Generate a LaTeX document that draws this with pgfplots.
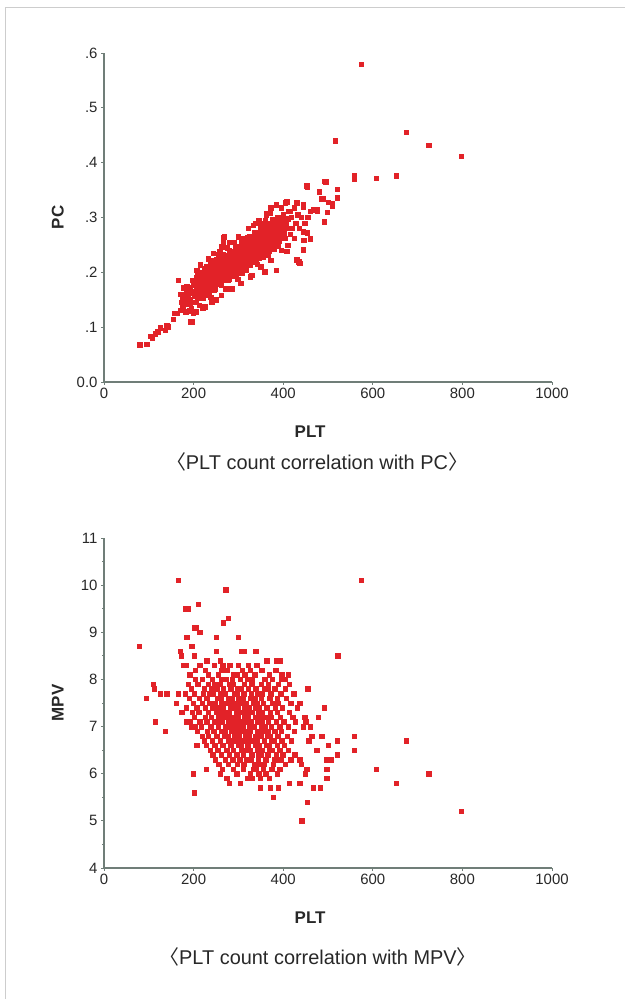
\documentclass[border=0pt]{standalone}
\usepackage{pgfplots}
\pgfplotsset{compat=1.18}
\usepackage{fontspec}
\setmainfont{Liberation Sans}
\newfontfamily\cjk{Noto Sans CJK KR}
\definecolor{ptred}{RGB}{226,34,40}
\definecolor{axgray}{RGB}{112,126,120}
\definecolor{lblgray}{RGB}{40,40,40}
\definecolor{framegray}{RGB}{205,205,205}

\pgfplotsset{
  scat/.style={
    scale only axis, width=448bp,
    xmin=0, xmax=1000,
    axis lines*=left,
    axis line style={draw=axgray, line width=1.3bp},
    tick align=outside, major tick length=3bp,
    tick style={draw=axgray, line width=0.8bp},
    xtick={0,200,400,600,800,1000},
    xticklabels={0,200,400,600,800,1000},
    ticklabel style={font=\fontsize{15}{15}\selectfont, text=lblgray},
    label style={font=\bfseries\fontsize{17}{17}\selectfont, text=lblgray},
    xlabel style={at={(axis description cs:0.46,-0.15)}, anchor=center},
    ylabel style={at={(axis description cs:-0.103,0.5)}, anchor=center},
    clip=false,
  },
  dots/.style={only marks, mark=square*, mark size=2.2bp,
    mark options={draw=ptred, fill=ptred}},
}

\begin{document}
\begin{tikzpicture}
\useasboundingbox (0,0) rectangle (625bp,999bp);
\draw[framegray, line width=1bp] (5bp,0) -- (5bp,991bp) -- (625bp,991bp);

% PLT vs PC
\begin{axis}[scat, height=329bp, at={(104bp,617bp)}, anchor=south west,
  ymin=0, ymax=0.6,
  ytick={0,0.1,0.2,0.3,0.4,0.5,0.6},
  yticklabels={0.0,.1,.2,.3,.4,.5,.6},
  xlabel={PLT}, ylabel={PC}]
\addplot[dots] coordinates {
(80,0.068)(95,0.069)(103,0.083)(108,0.080)(114,0.088)(120,0.092)(125,0.099)(136,0.095)
(140,0.104)(143,0.101)(155,0.115)(158,0.126)(163,0.126)(166,0.186)(170,0.131)(176,0.137)
(177,0.140)(172,0.145)(180,0.142)(182,0.128)(190,0.130)(192,0.110)(196,0.110)(199,0.126)
(195,0.135)(178,0.160)(175,0.150)(170,0.160)(185,0.175)(178,0.172)(207,0.204)(205,0.128)
(212,0.140)(225,0.137)
(185,0.148)(187,0.158)(184,0.169)
(192,0.151)(190,0.162)(193,0.172)(191,0.142)
(199,0.146)(201,0.156)(198,0.166)(200,0.176)(197,0.186)
(206,0.145)(208,0.154)(205,0.163)(207,0.172)(204,0.181)(206,0.190)(209,0.199)
(213,0.153)(211,0.162)(214,0.171)(212,0.180)(215,0.189)(213,0.198)
(220,0.154)(222,0.163)(219,0.172)(221,0.181)(218,0.190)(220,0.199)(223,0.208)
(227,0.162)(225,0.171)(228,0.180)(226,0.189)(229,0.198)(227,0.207)
(234,0.162)(236,0.171)(233,0.180)(235,0.189)(232,0.198)(234,0.207)(237,0.216)
(241,0.170)(239,0.179)(242,0.188)(240,0.197)(243,0.206)(241,0.215)
(248,0.170)(250,0.179)(247,0.188)(249,0.197)(246,0.206)(248,0.215)(251,0.224)
(255,0.178)(253,0.187)(256,0.196)(254,0.205)(257,0.214)(255,0.223)
(262,0.178)(264,0.187)(261,0.196)(263,0.205)(260,0.214)(262,0.223)(265,0.232)
(269,0.186)(267,0.195)(270,0.204)(268,0.213)(271,0.222)(269,0.231)
(276,0.186)(278,0.195)(275,0.204)(277,0.213)(274,0.222)(276,0.231)(279,0.240)
(283,0.194)(281,0.203)(284,0.212)(282,0.221)(285,0.230)(283,0.239)
(290,0.194)(292,0.203)(289,0.212)(291,0.221)(288,0.230)(290,0.239)(293,0.248)
(297,0.202)(295,0.211)(298,0.220)(296,0.229)(299,0.238)(297,0.247)
(304,0.202)(306,0.211)(303,0.220)(305,0.229)(302,0.238)(304,0.247)(307,0.256)
(311,0.210)(309,0.219)(312,0.228)(310,0.237)(313,0.246)(311,0.255)
(318,0.210)(320,0.219)(317,0.228)(319,0.237)(316,0.246)(318,0.255)(321,0.264)
(325,0.218)(323,0.227)(326,0.236)(324,0.245)(327,0.254)(325,0.263)
(332,0.218)(334,0.227)(331,0.236)(333,0.245)(330,0.254)(332,0.263)(335,0.272)
(339,0.227)(337,0.236)(340,0.245)(338,0.254)(341,0.263)(339,0.272)
(346,0.227)(348,0.236)(345,0.245)(347,0.254)(344,0.263)(346,0.272)(349,0.281)
(353,0.235)(351,0.244)(354,0.253)(352,0.262)(355,0.271)(353,0.280)
(360,0.235)(362,0.244)(359,0.253)(361,0.262)(358,0.271)(360,0.280)(363,0.289)
(367,0.243)(365,0.252)(368,0.261)(366,0.270)(369,0.279)(367,0.288)
(374,0.243)(376,0.252)(373,0.261)(375,0.270)(372,0.279)(374,0.288)(377,0.297)
(381,0.251)(379,0.260)(382,0.269)(380,0.278)(383,0.287)(381,0.296)
(388,0.259)(390,0.268)(387,0.277)(389,0.286)(386,0.295)
(395,0.263)(393,0.272)(396,0.281)(394,0.290)(397,0.299)
(402,0.271)(404,0.280)(401,0.289)(403,0.298)
(409,0.280)(407,0.289)(410,0.298)
(215,0.214)(232,0.225)(258,0.238)(280,0.255)(300,0.265)(322,0.280)(345,0.295)(362,0.305)
(372,0.318)(395,0.318)(400,0.305)(412,0.312)(425,0.318)(432,0.305)(440,0.300)(448,0.290)
(455,0.300)(420,0.280)(428,0.290)(436,0.280)(415,0.270)(425,0.262)(220,0.135)(240,0.145)
(262,0.158)(285,0.170)(305,0.180)(330,0.195)(350,0.210)(372,0.222)(395,0.240)(410,0.250)
(238,0.155)(272,0.170)(298,0.188)(318,0.205)(342,0.215)(365,0.232)(388,0.248)(250,0.150)
(350,0.290)(325,0.265)(310,0.262)(290,0.255)(275,0.245)(255,0.232)(240,0.222)(228,0.210)
(388,0.300)(376,0.290)(360,0.295)(418,0.300)(400,0.296)(405,0.262)(390,0.258)(380,0.243)
(368,0.238)(355,0.228)(340,0.222)(325,0.213)(310,0.205)(295,0.196)(280,0.188)(262,0.176)
(245,0.168)(230,0.158)
(268,0.265)(266,0.253)(244,0.235)(248,0.219)(263,0.247)(266,0.263)(304,0.241)(288,0.229)
(274,0.186)(307,0.199)(326,0.192)(359,0.201)(385,0.204)(348,0.277)(337,0.290)(363,0.308)
(385,0.323)(408,0.329)(430,0.327)(445,0.320)(460,0.311)(475,0.314)(415,0.311)(404,0.327)
(371,0.308)(333,0.286)(408,0.238)(430,0.223)(445,0.241)(453,0.272)(446,0.259)(435,0.220)
(433,0.219)(437,0.217)(460,0.261)(444,0.274)
(516,0.440)(574,0.580)(674,0.456)(725,0.432)(797,0.412)(558,0.376)(558,0.371)(607,0.372)
(652,0.376)(495,0.365)(493,0.366)(453,0.356)(452,0.358)(480,0.347)(520,0.352)(520,0.336)
(486,0.334)(489,0.334)(500,0.328)(509,0.321)(509,0.325)(445,0.323)(467,0.314)(498,0.310)
(476,0.312)(453,0.301)(491,0.292)
};
\end{axis}

% PLT vs MPV
\begin{axis}[scat, height=330bp, at={(104bp,131bp)}, anchor=south west,
  ymin=4, ymax=11,
  ytick={4,5,6,7,8,9,10,11},
  yticklabels={4,5,6,7,8,9,10,11},
  minor ytick={4.5,5.5,6.5,7.5,8.5,9.5,10.5},
  minor tick length=2bp,
  xlabel={PLT}, ylabel={MPV}]
\addplot[dots] coordinates {
(79,8.7)(94,7.6)(110,7.9)(112,7.8)(114,7.1)(125,7.7)(136,6.9)(140,7.7)(161,7.5)(166,7.7)
(166,10.1)(181,9.5)(188,9.5)(210,9.6)(277,9.3)(266,9.2)(272,9.9)(201,9.1)(205,9.1)(214,9.0)
(250,8.9)(300,8.9)(185,8.9)(170,8.6)(172,8.5)(196,8.7)(201,8.5)(250,8.6)(229,8.4)(259,8.4)
(307,8.6)(312,8.6)(339,8.6)(363,8.4)(385,8.4)(393,8.4)(411,8.1)(404,8.0)(182,8.3)(173,7.3)
(185,7.1)(196,7.0)(207,6.6)(228,6.1)(199,6.0)(201,5.6)(259,6.0)(280,5.8)(304,5.8)(330,5.9)
(348,5.7)(371,5.7)(378,5.5)(389,5.7)(414,5.8)(437,5.8)(467,5.7)(453,5.4)(441,5.0)(449,6.0)
(452,6.1)(437,6.3)(497,6.1)(497,5.9)(482,5.7)
(455,7.8)(492,7.4)(478,7.2)(437,7.5)(448,7.2)(450,7.1)(445,7.0)(460,7.0)(486,6.8)(464,6.8)
(457,6.7)(521,6.7)(558,6.8)(558,6.5)(500,6.6)(521,6.4)(475,6.5)(496,6.3)(507,6.3)(440,6.2)
(426,6.4)
(522,8.5)(574,10.1)(674,6.7)(607,6.1)(652,5.8)(725,6.0)(797,5.2)
(178,8.3)(214,8.3)(246,8.3)(265,8.3)(281,8.3)(299,8.3)(322,8.3)(341,8.3)
(203,8.2)(226,8.2)(262,8.2)(274,8.2)(309,8.2)(327,8.2)(352,8.2)(383,8.2)
(191,8.1)(232,8.1)(255,8.1)(288,8.1)(297,8.1)(314,8.1)(336,8.1)(369,8.1)(397,8.1)
(203,8.0)(219,8.0)(241,8.0)(263,8.0)(272,8.0)(286,8.0)(304,8.0)(321,8.0)(331,8.0)(359,8.0)(376,8.0)(396,8.0)
(188,7.9)(209,7.9)(233,7.9)(247,7.9)(259,7.9)(279,7.9)(288,7.9)(313,7.9)(330,7.9)(351,7.9)(367,7.9)(389,7.9)(413,7.9)
(195,7.8)(224,7.8)(239,7.8)(252,7.8)(266,7.8)(283,7.8)(297,7.8)(305,7.8)(322,7.8)(339,7.8)(357,7.8)(365,7.8)(381,7.8)(404,7.8)
(181,7.7)(201,7.7)(221,7.7)(236,7.7)(244,7.7)(259,7.7)(271,7.7)(290,7.7)(296,7.7)(312,7.7)(329,7.7)(342,7.7)(353,7.7)(372,7.7)(394,7.7)(423,7.7)
(190,7.6)(212,7.6)(229,7.6)(253,7.6)(262,7.6)(277,7.6)(285,7.6)(301,7.6)(310,7.6)(327,7.6)(336,7.6)(351,7.6)(370,7.6)(386,7.6)(407,7.6)
(199,7.5)(219,7.5)(236,7.5)(247,7.5)(261,7.5)(269,7.5)(281,7.5)(293,7.5)(304,7.5)(316,7.5)(333,7.5)(341,7.5)(356,7.5)(377,7.5)(389,7.5)(417,7.5)
(184,7.4)(207,7.4)(226,7.4)(243,7.4)(255,7.4)(266,7.4)(283,7.4)(291,7.4)(300,7.4)(314,7.4)(324,7.4)(339,7.4)(347,7.4)(363,7.4)(382,7.4)(398,7.4)(431,7.4)
(197,7.3)(211,7.3)(232,7.3)(251,7.3)(263,7.3)(274,7.3)(280,7.3)(295,7.3)(305,7.3)(317,7.3)(330,7.3)(345,7.3)(353,7.3)(371,7.3)(386,7.3)(414,7.3)
(202,7.2)(226,7.2)(239,7.2)(256,7.2)(268,7.2)(279,7.2)(289,7.2)(299,7.2)(313,7.2)(322,7.2)(338,7.2)(349,7.2)(361,7.2)(373,7.2)(393,7.2)(421,7.2)
(191,7.1)(214,7.1)(229,7.1)(246,7.1)(258,7.1)(264,7.1)(277,7.1)(286,7.1)(296,7.1)(307,7.1)(318,7.1)(329,7.1)(343,7.1)(352,7.1)(367,7.1)(384,7.1)(401,7.1)(427,7.1)
(203,7.0)(217,7.0)(238,7.0)(255,7.0)(271,7.0)(283,7.0)(292,7.0)(304,7.0)(311,7.0)(325,7.0)(335,7.0)(351,7.0)(359,7.0)(373,7.0)(392,7.0)(411,7.0)
(208,6.9)(231,6.9)(245,6.9)(262,6.9)(270,6.9)(285,6.9)(297,6.9)(308,6.9)(319,6.9)(327,6.9)(343,6.9)(355,6.9)(366,6.9)(381,6.9)(396,6.9)(424,6.9)
(219,6.8)(233,6.8)(252,6.8)(268,6.8)(276,6.8)(291,6.8)(301,6.8)(316,6.8)(324,6.8)(339,6.8)(350,6.8)(364,6.8)(371,6.8)(388,6.8)(409,6.8)
(223,6.7)(241,6.7)(259,6.7)(277,6.7)(285,6.7)(298,6.7)(309,6.7)(320,6.7)(332,6.7)(341,6.7)(357,6.7)(373,6.7)(379,6.7)(397,6.7)(418,6.7)
(228,6.6)(247,6.6)(265,6.6)(283,6.6)(299,6.6)(305,6.6)(321,6.6)(337,6.6)(346,6.6)(362,6.6)(368,6.6)(386,6.6)(402,6.6)
(237,6.5)(254,6.5)(274,6.5)(289,6.5)(306,6.5)(315,6.5)(327,6.5)(342,6.5)(353,6.5)(369,6.5)(375,6.5)(392,6.5)(411,6.5)
(243,6.4)(262,6.4)(280,6.4)(296,6.4)(311,6.4)(330,6.4)(345,6.4)(351,6.4)(365,6.4)(384,6.4)(399,6.4)
(248,6.3)(270,6.3)(287,6.3)(303,6.3)(317,6.3)(329,6.3)(344,6.3)(361,6.3)(381,6.3)(394,6.3)(417,6.3)
(256,6.2)(277,6.2)(297,6.2)(312,6.2)(335,6.2)(347,6.2)(358,6.2)(378,6.2)(405,6.2)
(264,6.1)(289,6.1)(311,6.1)(333,6.1)(340,6.1)(355,6.1)(374,6.1)(392,6.1)
(260,6.0)(296,6.0)(327,6.0)(345,6.0)(361,6.0)(386,6.0)
(274,5.9)(321,5.9)(349,5.9)(369,5.9)
};
\end{axis}

\node[font=\fontsize{20}{20}\selectfont, text=lblgray] at (317bp,537bp)
  {{\cjk 〈}PLT count correlation with PC{\cjk 〉}};
\node[font=\fontsize{20}{20}\selectfont, text=lblgray] at (318bp,42bp)
  {{\cjk 〈}PLT count correlation with MPV{\cjk 〉}};
\end{tikzpicture}
\end{document}
